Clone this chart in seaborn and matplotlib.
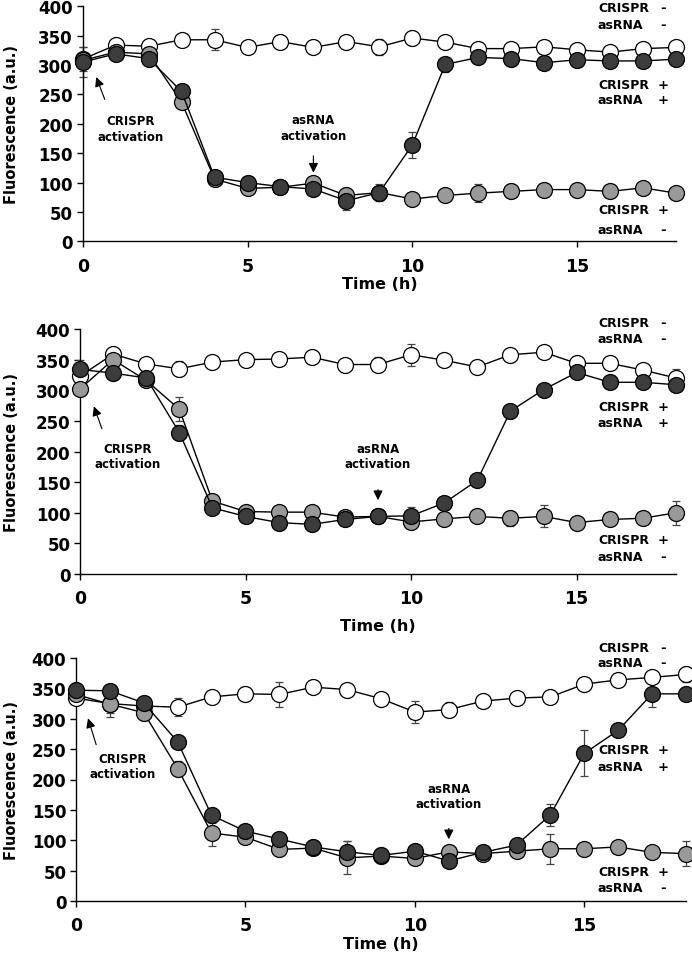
import numpy as np
import pandas as pd
import matplotlib
matplotlib.use("Agg")
import matplotlib.pyplot as plt
import matplotlib.transforms as mtransforms
import seaborn as sns

# time points (h)
hours = list(range(19))

# panel 1 (asRNA activation at 7 h)
p1_white = [310, 334, 332, 343, 343, 330, 340, 330, 340, 331, 346, 339, 328, 328, 331, 326, 322, 328, 330]
p1_gray = [308, 322, 319, 237, 106, 90, 92, 99, 78, 83, 72, 78, 82, 85, 88, 88, 85, 91, 82]
p1_dark = [305, 319, 311, 255, 109, 100, 93, 89, 69, 83, 164, 301, 313, 311, 304, 309, 307, 307, 310]
p1_white_err = [20, 4, 4, 4, 18, 4, 4, 4, 10, 14, 12, 4, 6, 4, 8, 4, 6, 6, 4]
p1_gray_err = [5, 5, 5, 5, 5, 5, 5, 5, 12, 8, 5, 5, 15, 12, 5, 5, 5, 10, 5]
p1_dark_err = [25, 8, 5, 5, 5, 5, 5, 5, 15, 15, 22, 12, 5, 5, 5, 5, 5, 5, 5]

# panel 2 (asRNA activation at 9 h)
p2_white = [323, 359, 343, 335, 346, 350, 351, 354, 342, 342, 358, 349, 338, 358, 362, 344, 344, 333, 320]
p2_gray = [302, 350, 316, 269, 119, 102, 101, 101, 93, 94, 85, 90, 94, 91, 94, 84, 89, 91, 100]
p2_dark = [334, 328, 320, 231, 108, 94, 84, 81, 89, 94, 95, 116, 153, 266, 301, 329, 313, 313, 309]
p2_white_err = [20, 8, 5, 12, 5, 5, 5, 5, 8, 12, 18, 5, 5, 10, 5, 5, 10, 5, 15]
p2_gray_err = [10, 10, 5, 20, 5, 5, 5, 5, 5, 5, 5, 5, 5, 12, 18, 5, 5, 5, 20]
p2_dark_err = [15, 12, 5, 12, 5, 5, 5, 5, 5, 5, 15, 5, 5, 12, 5, 5, 5, 5, 5]

# panel 3 (asRNA activation at 11 h)
p3_white = [334, 325, 321, 319, 336, 341, 340, 352, 348, 333, 311, 315, 329, 334, 336, 357, 364, 368, 373]
p3_gray = [340, 324, 310, 218, 112, 105, 85, 87, 71, 74, 70, 81, 78, 82, 86, 86, 89, 80, 78]
p3_dark = [347, 346, 326, 262, 141, 115, 102, 89, 81, 75, 82, 66, 80, 92, 142, 243, 281, 341, 341]
p3_white_err = [10, 22, 5, 15, 5, 12, 20, 5, 5, 5, 18, 12, 5, 5, 5, 5, 5, 5, 12]
p3_gray_err = [10, 15, 12, 12, 22, 5, 5, 5, 27, 10, 8, 5, 5, 10, 25, 5, 5, 5, 20]
p3_dark_err = [12, 5, 5, 5, 12, 5, 5, 12, 18, 12, 5, 5, 5, 12, 18, 38, 5, 22, 5]

asrna_times = [7, 9, 11]

sns.set_style("ticks")
plt.rcParams['font.family'] = ['DejaVu Sans']
plt.rcParams['font.weight'] = 'bold'
for k in ['text.color', 'axes.labelcolor', 'xtick.color', 'ytick.color', 'axes.edgecolor']:
    plt.rcParams[k] = 'black'

W, H = 692, 954
fig = plt.figure(figsize=(W / 100, H / 100), dpi=100)

# axes rectangles in pixels: left, right, top(400), bottom(0)
px_rects = [(82.7, 676, 7.3, 242.3),
            (80, 676, 330, 575),
            (76, 686, 659, 902)]

panels = [
    (p1_white, p1_gray, p1_dark, p1_white_err, p1_gray_err, p1_dark_err),
    (p2_white, p2_gray, p2_dark, p2_white_err, p2_gray_err, p2_dark_err),
    (p3_white, p3_gray, p3_dark, p3_white_err, p3_gray_err, p3_dark_err),
]

# label y positions (data units) for the right-hand condition labels
label_ys = [
    [(398, 369), (267, 242), (54, 20)],
    [(410, 384), (274, 247), (56, 28)],
    [(418, 392), (249, 221), (49, 23)],
]
crispr_text = [(1.45, 192), (1.45, 193), (1.39, 222)]
crispr_arrow = [((0.7, 237), (0.38, 284)), ((0.69, 233), (0.39, 278)), ((0.62, 253), (0.33, 305))]
asrna_text_y = [194, 193, 173]
asrna_arrow_y = [(150, 112), (142, 116), (124, 97)]
xlabel_pads = [1, 8, 1]

fills = ['white', '#999999', '#3c3c3c']

for i, vals in enumerate(panels):
    l, r, t, b = px_rects[i]
    ax = fig.add_axes([l / W, 1 - b / H, (r - l) / W, (b - t) / H])
    series = vals[:3]
    errs = vals[3:]
    for s, e, fc in zip(series, errs, fills):
        df = pd.DataFrame({"hour": hours, "fluor": s})
        ax.errorbar(df["hour"], df["fluor"], yerr=e, fmt='none', ecolor='#444444',
                    elinewidth=0.9, capsize=3, capthick=0.9, clip_on=False, zorder=2)
        sns.lineplot(data=df, x="hour", y="fluor", ax=ax, color='black', lw=1.0,
                     marker='o', markersize=11.5, markerfacecolor=fc,
                     markeredgecolor='black', markeredgewidth=0.9, clip_on=False, zorder=3)

    ax.set_xlim(0, 18)
    ax.set_ylim(0, 400)
    ax.set_xticks([0, 5, 10, 15])
    ax.set_yticks(range(0, 401, 50))
    ax.tick_params(axis='y', labelsize=12, direction='out', length=4, width=1, pad=3)
    ax.tick_params(axis='x', labelsize=12.5, direction='out', length=4, width=1, pad=7)
    for lab in ax.get_xticklabels() + ax.get_yticklabels():
        lab.set_fontweight('bold')
    ax.set_xlabel("Time (h)", fontsize=11.5, fontweight='bold', labelpad=xlabel_pads[i])
    ax.set_ylabel("Fluorescence (a.u.)", fontsize=10.5, fontweight='bold')
    ax.yaxis.set_label_coords((19 - l) / (r - l), 0.5)
    sns.despine(ax=ax)
    for sp in ['left', 'bottom']:
        ax.spines[sp].set_linewidth(1.0)

    # condition labels on the right (x fixed in figure pixels)
    tr = mtransforms.blended_transform_factory(fig.transFigure, ax.transData)
    signs = [('-', '-'), ('+', '+'), ('+', '-')]
    for (ya, yb), (sa, sb) in zip(label_ys[i], signs):
        ax.text(598 / W, ya, "CRISPR", fontsize=9, fontweight='bold', va='center', ha='left',
                transform=tr, clip_on=False)
        ax.text(663 / W, ya, sa, fontsize=9.5, fontweight='bold', va='center', ha='center',
                transform=tr, clip_on=False)
        ax.text(598 / W, yb, "asRNA", fontsize=9, fontweight='bold', va='center', ha='left',
                transform=tr, clip_on=False)
        ax.text(663 / W, yb, sb, fontsize=9.5, fontweight='bold', va='center', ha='center',
                transform=tr, clip_on=False)

    # CRISPR activation annotation
    ax.text(crispr_text[i][0], crispr_text[i][1], "CRISPR\nactivation", fontsize=8.5,
            fontweight='bold', ha='center', va='center', linespacing=1.25)
    ax.annotate("", xy=crispr_arrow[i][1], xytext=crispr_arrow[i][0],
                arrowprops=dict(arrowstyle='-|>', color='black', lw=0.8, mutation_scale=14))

    # asRNA activation annotation
    tt = asrna_times[i]
    ax.text(tt, asrna_text_y[i], "asRNA\nactivation", fontsize=8.5,
            fontweight='bold', ha='center', va='center', linespacing=1.25)
    ax.annotate("", xy=(tt, asrna_arrow_y[i][1]), xytext=(tt, asrna_arrow_y[i][0]),
                arrowprops=dict(arrowstyle='-|>', color='black', lw=0.9, mutation_scale=14))

fig.savefig("out.png", dpi=100)
